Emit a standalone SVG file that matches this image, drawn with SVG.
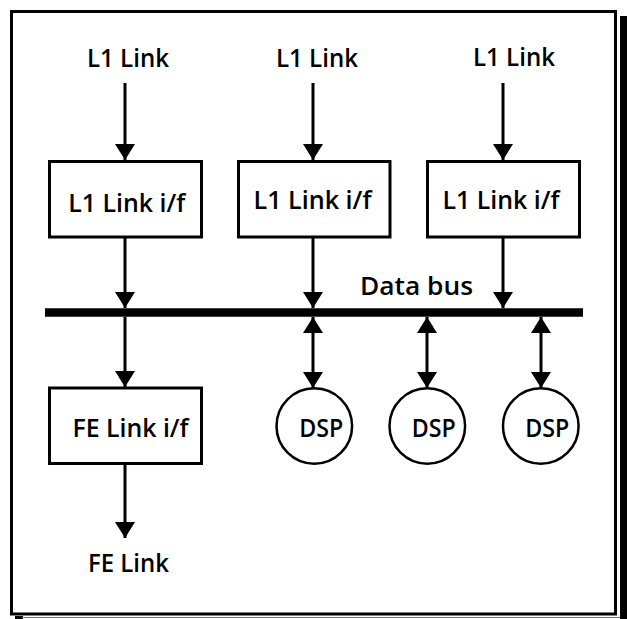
<svg xmlns="http://www.w3.org/2000/svg" width="627" height="619" viewBox="0 0 627 619">
  <style>
    .lbl { font-family: "Open Sans", "Liberation Sans", sans-serif; font-weight: 600; font-size: 25px; fill: #000; text-anchor: middle; }
    .box { fill: #fff; stroke: #000; stroke-width: 3; }
    .dsp { fill: #fff; stroke: #000; stroke-width: 2.5; }
    .wire { stroke: #000; stroke-width: 3; fill: none; }
    .bus { stroke: #000; stroke-width: 8.5; }
  </style>
  <defs>
    <marker id="head" viewBox="0 0 16 20" refX="16" refY="10" markerWidth="16" markerHeight="20" markerUnits="userSpaceOnUse" orient="auto-start-reverse">
      <path d="M0,0 L16,10 L0,20 Z" fill="#000"/>
    </marker>
  </defs>

  <rect width="627" height="619" fill="#fff"/>

  <!-- frame with drop shadow -->
  <g id="frame">
    <rect x="620" y="16" width="7" height="603" fill="#000"/>
    <rect x="15" y="616" width="8" height="3" fill="#000"/>
    <line x1="22" y1="617.5" x2="620" y2="617.5" stroke="#777" stroke-width="1"/>
    <rect x="11.5" y="11.5" width="604" height="602.5" fill="#fff" stroke="#000" stroke-width="3"/>
  </g>

  <!-- connectors -->
  <g id="connectors">
    <line class="bus" x1="45" y1="312.5" x2="583" y2="312.5"/>
    <line class="wire" x1="125" y1="83" x2="125" y2="160" marker-end="url(#head)"/>
    <line class="wire" x1="313" y1="83" x2="313" y2="160" marker-end="url(#head)"/>
    <line class="wire" x1="503" y1="83" x2="503" y2="160" marker-end="url(#head)"/>
    <line class="wire" x1="125" y1="237" x2="125" y2="308" marker-end="url(#head)"/>
    <line class="wire" x1="313" y1="237" x2="313" y2="308" marker-end="url(#head)"/>
    <line class="wire" x1="503" y1="237" x2="503" y2="308" marker-end="url(#head)"/>
    <line class="wire" x1="125" y1="317" x2="125" y2="387" marker-end="url(#head)"/>
    <line class="wire" x1="125" y1="464" x2="125" y2="538" marker-end="url(#head)"/>
    <line class="wire" x1="313" y1="317" x2="313" y2="388" marker-start="url(#head)" marker-end="url(#head)"/>
    <line class="wire" x1="427" y1="317" x2="427" y2="388" marker-start="url(#head)" marker-end="url(#head)"/>
    <line class="wire" x1="541" y1="317" x2="541" y2="388" marker-start="url(#head)" marker-end="url(#head)"/>
  </g>

  <!-- free labels -->
  <g id="l1-link-1"><text class="lbl" x="128" y="67" textLength="82" lengthAdjust="spacingAndGlyphs">L1 Link</text></g>
  <g id="l1-link-2"><text class="lbl" x="317" y="67" textLength="82" lengthAdjust="spacingAndGlyphs">L1 Link</text></g>
  <g id="l1-link-3"><text class="lbl" x="514" y="66" textLength="82" lengthAdjust="spacingAndGlyphs">L1 Link</text></g>
  <g id="data-bus"><text class="lbl" x="416.5" y="295" textLength="113" lengthAdjust="spacingAndGlyphs">Data bus</text></g>
  <g id="fe-link"><text class="lbl" x="128.5" y="571.5" textLength="81" lengthAdjust="spacingAndGlyphs">FE Link</text></g>

  <!-- interface boxes -->
  <g id="l1-if-1">
    <rect class="box" x="49.5" y="161.5" width="152" height="75.5"/>
    <text class="lbl" x="126.7" y="211.5" textLength="117" lengthAdjust="spacingAndGlyphs">L1 Link i/f</text>
  </g>
  <g id="l1-if-2">
    <rect class="box" x="238.5" y="161.5" width="151.5" height="75.5"/>
    <text class="lbl" x="312.5" y="208.5" textLength="118" lengthAdjust="spacingAndGlyphs">L1 Link i/f</text>
  </g>
  <g id="l1-if-3">
    <rect class="box" x="427.5" y="161.5" width="152" height="75.5"/>
    <text class="lbl" x="501" y="208.5" textLength="117" lengthAdjust="spacingAndGlyphs">L1 Link i/f</text>
  </g>
  <g id="fe-if">
    <rect class="box" x="49.5" y="388" width="152" height="75.5"/>
    <text class="lbl" x="130.5" y="437" textLength="116" lengthAdjust="spacingAndGlyphs">FE Link i/f</text>
  </g>

  <!-- DSP nodes -->
  <g id="dsp-1">
    <circle class="dsp" cx="314.3" cy="426" r="37.8"/>
    <text class="lbl" x="321.3" y="437" textLength="44" lengthAdjust="spacingAndGlyphs">DSP</text>
  </g>
  <g id="dsp-2">
    <circle class="dsp" cx="427.3" cy="426" r="37.8"/>
    <text class="lbl" x="433.8" y="437" textLength="44" lengthAdjust="spacingAndGlyphs">DSP</text>
  </g>
  <g id="dsp-3">
    <circle class="dsp" cx="540.8" cy="426" r="37.8"/>
    <text class="lbl" x="547.2" y="437" textLength="44" lengthAdjust="spacingAndGlyphs">DSP</text>
  </g>
</svg>
